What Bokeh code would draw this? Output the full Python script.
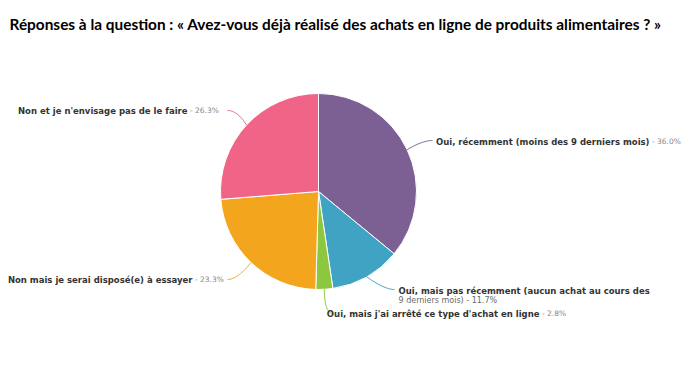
import numpy as np
from bokeh.plotting import figure
from bokeh.models import Range1d
from bokeh.core.properties import value
from bokeh.embed import file_html
from bokeh.resources import INLINE

title = "Réponses à la question : « Avez-vous déjà réalisé des achats en ligne de produits alimentaires ? »"
categories = [
    "Oui, récemment (moins des 9 derniers mois)",
    "Oui, mais pas récemment (aucun achat au cours des 9 derniers mois)",
    "Oui, mais j'ai arrêté ce type d'achat en ligne",
    "Non mais je serai disposé(e) à essayer",
    "Non et je n'envisage pas de le faire",
]
values = [36.0, 11.7, 2.8, 23.3, 26.3]
colors = ["#7C5F93", "#41A3C3", "#8DC63F", "#F4A51E", "#EF6487"]

W, H = 684, 353
def S(y):  # screen y -> data y
    return 369 - y

p = figure(width=W, height=H, x_range=Range1d(0, 684), y_range=Range1d(16, 369),
           output_backend="svg", toolbar_location=None, min_border=0)
p.axis.visible = False
p.grid.visible = False
p.outline_line_color = None
p.background_fill_color = "white"

# pie
cx, cy, r = 318, S(191), 98
v = np.array(values)
frac = v / v.sum()
cum_end = np.cumsum(frac)
cum_start = cum_end - frac
start = np.pi / 2 - 2 * np.pi * cum_end
end = np.pi / 2 - 2 * np.pi * cum_start
p.wedge(x=cx, y=cy, radius=r, start_angle=start, end_angle=end,
        fill_color=colors, line_color="white", line_width=1)

NAME_C = "#333333"
PCT_C = "#888888"
FS = "8.5px"
PFS = "7.5px"
FONT = value("DejaVu Sans")

mid = np.pi / 2 - 2 * np.pi * (cum_start + frac / 2)
edge_x = cx + r * np.cos(mid)
edge_y = cy + r * np.sin(mid)

conn_end = [(432, 140), (394, 289), (333, 313), (227, 279), (227, 110)]
ctrl = [(422, 140), (384, 289), (None, 313), (237, 279), (237, 110)]
for i in range(5):
    ex, ey = conn_end[i]
    ey = S(ey)
    cxp = ctrl[i][0] if ctrl[i][0] is not None else edge_x[i]
    cyp = S(ctrl[i][1])
    t = np.linspace(0, 1, 30)
    bx = (1 - t) ** 2 * edge_x[i] + 2 * (1 - t) * t * cxp + t ** 2 * ex
    by = (1 - t) ** 2 * edge_y[i] + 2 * (1 - t) * t * cyp + t ** 2 * ey
    p.line(bx, by, line_color=colors[i], line_width=1)

def pct(i):
    return f"{values[i]:.1f}%"

def label(x, y, name, pc):
    p.text(x=[x], y=[S(y)], text=[name], text_align="right",
           text_baseline="middle", text_font=FONT, text_font_size=FS,
           text_font_style="bold", text_color=NAME_C)
    p.text(x=[x], y=[S(y)], text=["\u00a0- " + pc], text_align="left", text_baseline="middle",
           text_font=FONT, text_font_size=PFS, text_color=PCT_C)

label(649, 141, categories[0], pct(0))
# blue (two lines)
p.text(x=[398], y=[S(290)], text=["Oui, mais pas récemment (aucun achat au cours des"],
       text_align="left", text_baseline="middle", text_font=FONT, text_font_size=FS,
       text_font_style="bold", text_color=NAME_C)
p.text(x=[398], y=[S(300)], text=["9 derniers mois) - " + pct(1)],
       text_align="left", text_baseline="middle", text_font=FONT, text_font_size="8px",
       text_color="#6a6a6a")
label(539, 313, categories[2], pct(2))
label(192, 279, categories[3], pct(3))
label(187, 110, categories[4], pct(4))

# title
p.text(x=[9], y=[S(23)], text=[title], text_align="left", text_baseline="middle",
       text_font=value("Lato"), text_font_size="15.4px", text_font_style="bold",
       text_color="#000000")

open("out.html", "w").write(file_html(p, INLINE))
